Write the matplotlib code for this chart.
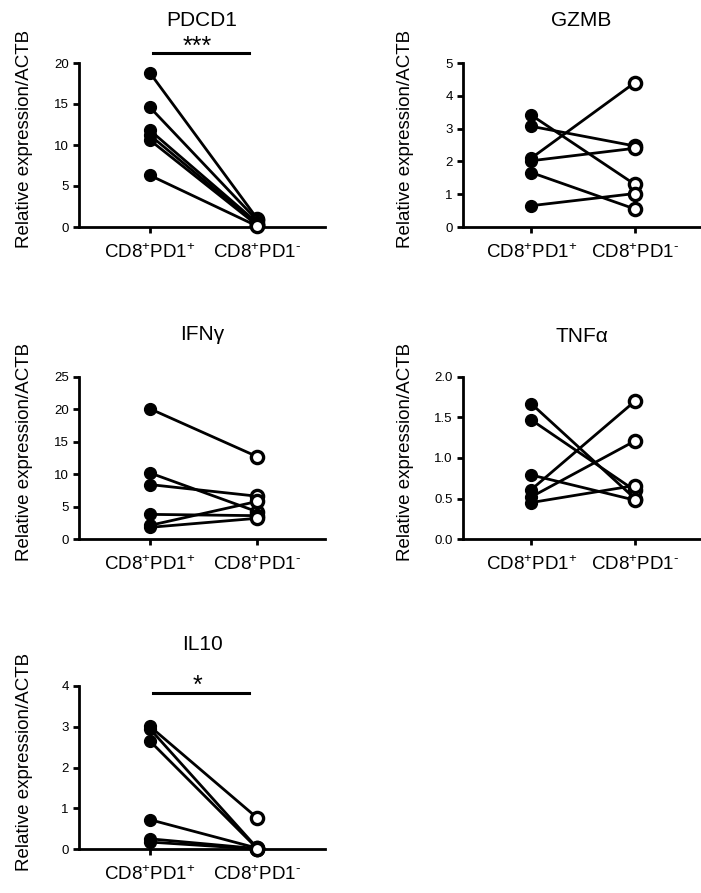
import matplotlib
matplotlib.use("Agg")
import matplotlib.pyplot as plt

plt.rcParams['font.family'] = ['Liberation Sans', 'DejaVu Sans']
plt.rcParams['mathtext.fontset'] = 'custom'
plt.rcParams['mathtext.rm'] = 'Liberation Sans'
plt.rcParams['mathtext.default'] = 'regular'

groups = ["CD8$^{+}$PD1$^{+}$", "CD8$^{+}$PD1$^{‐}$"]

# PDCD1
pdcd1_pos = [18.8, 14.6, 11.8, 11.2, 10.6, 6.3]
pdcd1_neg = [1.0, 0.8, 0.5, 0.3, 0.2, 0.1]
# GZMB
gzmb_pos = [3.41, 3.07, 2.1, 2.02, 1.66, 0.65]
gzmb_neg = [1.3, 2.47, 4.4, 2.4, 0.55, 1.02]
# IFNg
ifng_pos = [20.1, 10.2, 8.4, 3.8, 2.1, 1.8]
ifng_neg = [12.7, 4.2, 6.6, 3.6, 5.8, 3.2]
# TNFa
tnfa_pos = [1.67, 1.47, 0.79, 0.61, 0.52, 0.45]
tnfa_neg = [0.5, 0.6, 0.48, 1.70, 1.21, 0.66]
# IL10
il10_pos = [3.01, 2.95, 2.65, 0.72, 0.25, 0.17]
il10_neg = [0.76, 0.02, 0.01, 0.02, 0.01, 0.0]

panels = [
    ("PDCD1", pdcd1_pos, pdcd1_neg, 20, [0, 5, 10, 15, 20], ["0", "5", "10", "15", "20"], "***", 21.2),
    ("GZMB", gzmb_pos, gzmb_neg, 5, [0, 1, 2, 3, 4, 5], ["0", "1", "2", "3", "4", "5"], None, None),
    ("IFNγ", ifng_pos, ifng_neg, 25, [0, 5, 10, 15, 20, 25], ["0", "5", "10", "15", "20", "25"], None, None),
    ("TNFα", tnfa_pos, tnfa_neg, 2.0, [0, 0.5, 1.0, 1.5, 2.0], ["0.0", "0.5", "1.0", "1.5", "2.0"], None, None),
    ("IL10", il10_pos, il10_neg, 4, [0, 1, 2, 3, 4], ["0", "1", "2", "3", "4"], "*", 3.84),
]

W, H = 701, 893
fig = plt.figure(figsize=(W/100, H/100), dpi=100)

# axes boxes in pixels (left, top, right, bottom) + title centre y
boxes = [
    (79, 63, 325, 227, 20),
    (463, 63, 700, 227, 20),
    (79, 377, 325, 539, 335),
    (463, 377, 700, 539, 337),
    (79, 686, 325, 849, 645),
]

for (name, pos, neg, ymax, yt, ytl, star, bary), (l, t, r, b, ty) in zip(panels, boxes):
    ax = fig.add_axes([l/W, 1-b/H, (r-l)/W, (b-t)/H])
    for p, n in zip(pos, neg):
        ax.plot([0, 1], [p, n], "k-", lw=2, zorder=2, clip_on=False)
    ax.plot([0]*len(pos), pos, "o", color="k", ms=8.5, zorder=3, clip_on=False)
    ax.plot([1]*len(neg), neg, "o", mfc="white", mec="k", mew=2.4, ms=8.8, zorder=3, clip_on=False)
    ax.set_xlim(-0.66, 1.63)
    ax.set_ylim(0, ymax)
    ax.set_yticks(yt)
    ax.set_yticklabels(ytl, fontsize=9.5)
    ax.set_xticks([0, 1])
    ax.set_xticklabels(groups, fontsize=13.5)
    for s in ["top", "right"]:
        ax.spines[s].set_visible(False)
    for s in ["left", "bottom"]:
        ax.spines[s].set_linewidth(2)
    ax.tick_params(axis="both", width=2, length=4, direction="out")
    ax.tick_params(axis="x", pad=8)
    fig.text((l + r)/2/W, 1 - ty/H, name, ha="center", va="center", fontsize=15)
    ax.set_ylabel("Relative expression/ACTB", fontsize=13.5)
    yl_x = -0.187 if l < 200 else -0.207
    ax.yaxis.set_label_coords(yl_x, 0.537)
    if star:
        # significance bar
        ax.plot([0.03, 0.92], [bary, bary], "k-", lw=2.2, clip_on=False)
        ax.text(0.44, bary - 0.5*ymax/164, star, ha="center", va="baseline", fontsize=18)

fig.savefig("out.png", dpi=100)
